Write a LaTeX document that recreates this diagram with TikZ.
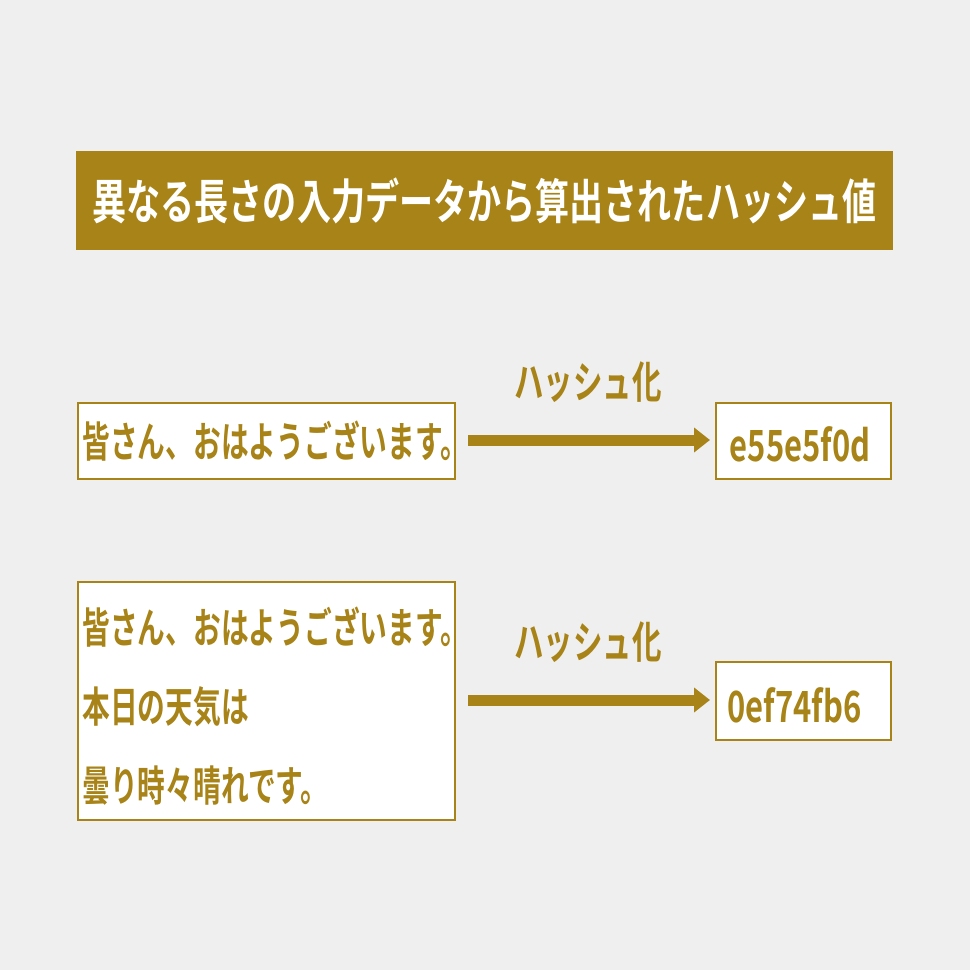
\documentclass[tikz,border=0pt]{standalone}
\usepackage{fontspec}
\usetikzlibrary{arrows.meta}
\newfontfamily\jp{Noto Sans CJK JP Bold}
\usepackage{graphicx}
\definecolor{gold}{HTML}{A88317}
\definecolor{bg}{HTML}{EFEFEF}
\newcommand{\cz}[3]{\scalebox{#2}[1]{\fontsize{#1}{#1}\jp #3}}
\begin{document}
\begin{tikzpicture}[x=1pt,y=-1pt,
  box/.style={draw=gold,line width=2pt,fill=white},
  arr/.style={gold,line width=11pt,-{Triangle[length=16pt,width=24pt]}}]
\useasboundingbox[fill=bg] (0,0) rectangle (970,970);
\fill[gold] (76,151) rectangle (893,250);
\node[white] (title) at (484.5,201) {\cz{48}{0.71}{\color{white}異なる長さの入力データから算出されたハッシュ値}};
\draw[box] (78,403) rectangle (455,479);
\node[anchor=west,text=gold] (t1) at (79,441) {\cz{42}{0.66}{皆さん、おはようございます。}};
\draw[box] (716,403) rectangle (891,479);
\node[text=gold] (h1) at (800,444) {\cz{43}{0.72}{e55e5f0d}};
\coordinate (a1s) at (468,440); \coordinate (a1e) at (710,440);
\draw[arr] (a1s) -- (a1e);
\node[text=gold] (l1) at (588,382) {\cz{44}{0.67}{ハッシュ化}};
\draw[box] (78,582) rectangle (455,820);
\node[anchor=west,text=gold] (t2) at (79,627) {\cz{42}{0.66}{皆さん、おはようございます。}};
\node[anchor=west,text=gold] (t3) at (79,707) {\cz{42}{0.66}{本日の天気は}};
\node[anchor=west,text=gold] (t4) at (79,786) {\cz{42}{0.66}{曇り時々晴れです。}};
\draw[box] (716,662) rectangle (891,740);
\node[anchor=west,text=gold] (h2) at (724,705) {\cz{43}{0.72}{0ef74fb6}};
\coordinate (a2s) at (468,700); \coordinate (a2e) at (710,700);
\draw[arr] (a2s) -- (a2e);
\node[text=gold] (l2) at (588,642) {\cz{44}{0.67}{ハッシュ化}};
\end{tikzpicture}
\end{document}
